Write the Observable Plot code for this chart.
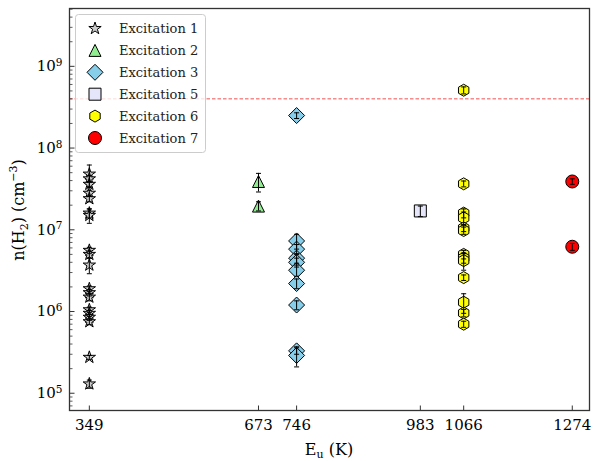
<!DOCTYPE html>
<html>
<head>
<meta charset="utf-8">
<script src="https://cdn.jsdelivr.net/npm/d3@7"></script>
<script src="https://cdn.jsdelivr.net/npm/@observablehq/plot@0.6"></script>
<style>
  body { margin: 0; background: #fff; }
  #chart svg { display: block; }
</style>
</head>
<body>
<div id="chart"></div>
<script>
// Upper-level energies (K) of the excitation groups, also used as x ticks
const energyTicks = [349, 673, 746, 983, 1066, 1274];

const seriesNames = ["Excitation 1", "Excitation 2", "Excitation 3", "Excitation 5", "Excitation 6", "Excitation 7"];
const seriesEnergy = [349, 673, 746, 983, 1066, 1274];
const seriesFill = ["#cccccc", "#90ee90", "#87ceeb", "#e6e6fa", "#ffff00", "#ff0000"];

// H2 densities (cm^-3) and their 1-sigma errors per excitation group
const exc1Density = [4.8e7, 4.2e7, 3.6e7, 2.8e7, 2.4e7, 1.6e7, 1.5e7, 5.6e6, 5.0e6, 3.7e6, 1.9e6, 1.7e6, 1.5e6, 1.05e6, 9.5e5, 8.5e5, 7.5e5, 2.75e5, 1.3e5];
const exc1Error   = [1.4e7, 4e6, 3e6, 2.5e6, 2e6, 2e6, 3e6, 5e5, 5e5, 8e5, 1.5e5, 1.5e5, 1.5e5, 8e4, 8e4, 7e4, 6e4, 1.5e4, 1.5e4];
const exc2Density = [3.9e7, 1.95e7];
const exc2Error   = [1.0e7, 2.5e6];
const exc3Density = [2.5e8, 7.3e6, 5.8e6, 4.5e6, 4.0e6, 3.2e6, 2.2e6, 1.2e6, 3.3e5, 2.9e5];
const exc3Error   = [2.0e7, 1.5e6, 8e5, 6e5, 5e5, 5e5, 3e5, 1.5e5, 3e4, 8e4];
const exc5Density = [1.7e7];
const exc5Error   = [2.5e6];
const exc6Density = [5.1e8, 3.65e7, 1.6e7, 1.4e7, 1.05e7, 9.8e6, 5.0e6, 4.5e6, 4.2e6, 2.6e6, 1.3e6, 9.6e5, 7.0e5];
const exc6Error   = [5e7, 3e6, 2e6, 2.5e6, 1e6, 1e6, 6e5, 6e5, 1e6, 2e5, 3.5e5, 1e5, 6e4];
const exc7Density = [3.9e7, 6.2e6];
const exc7Error   = [3e6, 6e5];

const densityThreshold = 4e8;
const decadeTicks = [1e5, 1e6, 1e7, 1e8, 1e9];

const densities = [exc1Density, exc2Density, exc3Density, exc5Density, exc6Density, exc7Density];
const errors = [exc1Error, exc2Error, exc3Error, exc5Error, exc6Error, exc7Error];

const rows = seriesNames.flatMap((name, i) =>
  densities[i].map((v, j) => ({series: name, energy: seriesEnergy[i], density: v, error: errors[i][j]}))
);

// Marker shapes in the style of matplotlib markers; size is pi*r^2
const radiusOf = size => Math.sqrt(size / Math.PI);
function polygon(pts) {
  return {draw(ctx, size) {
    const R = radiusOf(size);
    pts.forEach(([px, py], k) => k ? ctx.lineTo(px * R, py * R) : ctx.moveTo(px * R, py * R));
    ctx.closePath();
  }};
}
const starPts = d3.range(10).map(k => {
  const a = -Math.PI / 2 + k * Math.PI / 5, rr = k % 2 ? 0.382 : 1;
  return [rr * Math.cos(a), rr * Math.sin(a)];
});
const hexPts = d3.range(6).map(k => {
  const a = -Math.PI / 2 + k * Math.PI / 3;
  return [Math.cos(a), Math.sin(a)];
});
const symStar = polygon(starPts);
const symTriangle = polygon([[0, -1], [1, 1], [-1, 1]]);
const symDiamond = polygon([[0, -1], [1, 0], [0, 1], [-1, 0]]);
const symSquare = polygon([[-1, -1], [1, -1], [1, 1], [-1, 1]]);
const symHexagon = polygon(hexPts);
const symCircle = d3.symbolCircle;
const seriesSymbol = [symStar, symTriangle, symDiamond, symSquare, symHexagon, symCircle];
const seriesRadius = [6.5, 6, 8, 6, 6, 6.5];

// Short strokes used for error-bar caps and inward axis ticks
const capSymbol = {draw(ctx, size) { const R = radiusOf(size); ctx.moveTo(-R, 0); ctx.lineTo(R, 0); }};
const tickRight = {draw(ctx, size) { const R = radiusOf(size); ctx.moveTo(0, 0); ctx.lineTo(R, 0); }};
const tickUp = {draw(ctx, size) { const R = radiusOf(size); ctx.moveTo(0, 0); ctx.lineTo(0, -R); }};

const yDomain = [6.15e4, 5.1e9];
const minorTicks = [];
for (let e = 4; e <= 9; e++) for (let m = 2; m <= 9; m++) {
  const v = m * 10 ** e;
  if (v > yDomain[0] && v < yDomain[1]) minorTicks.push(v);
}

// "10^k" labels; the exponent is raised into a superscript after rendering
const powerLabel = d => "10^" + Math.round(Math.log10(d));

const ink = "#333";

const marks = [
  Plot.ruleY([densityThreshold], {stroke: "#ee3333", strokeOpacity: 0.85, strokeWidth: 1, strokeDasharray: "3.5,2"}),
  ...seriesNames.map((name, i) =>
    Plot.dot(rows.filter(d => d.series === name), {
      x: "energy", y: "density", symbol: seriesSymbol[i], r: seriesRadius[i],
      fill: seriesFill[i], stroke: "black", strokeWidth: 1
    })
  ),
  Plot.ruleX(rows, {x: "energy", y1: d => d.density - d.error, y2: d => d.density + d.error, stroke: "black", strokeWidth: 1}),
  Plot.dot(rows, {x: "energy", y: d => d.density + d.error, symbol: capSymbol, r: 2.5, fill: "none", stroke: "black", strokeWidth: 1}),
  Plot.dot(rows, {x: "energy", y: d => d.density - d.error, symbol: capSymbol, r: 2.5, fill: "none", stroke: "black", strokeWidth: 1}),
  Plot.dot(decadeTicks, {y: d => d, frameAnchor: "left", symbol: tickRight, r: 5, fill: "none", stroke: ink, strokeWidth: 1}),
  Plot.dot(minorTicks, {y: d => d, frameAnchor: "left", symbol: tickRight, r: 3, fill: "none", stroke: ink, strokeWidth: 0.8}),
  Plot.dot(energyTicks, {x: d => d, frameAnchor: "bottom", symbol: tickUp, r: 5, fill: "none", stroke: ink, strokeWidth: 1}),
  Plot.axisY({ticks: decadeTicks, tickSize: 0, tickPadding: 7, tickFormat: powerLabel, fontSize: 15, label: null}),
  Plot.axisX({ticks: energyTicks, tickSize: 0, tickPadding: 9, tickFormat: d => String(d), fontSize: 15, label: null}),
  Plot.frame({stroke: ink, strokeWidth: 1.3})
];

const chart = Plot.plot({
  width: 594,
  height: 461,
  marginLeft: 69,
  marginRight: 5,
  marginTop: 8,
  marginBottom: 51,
  style: {fontFamily: "'DejaVu Serif', serif", color: "black", background: "white"},
  x: {domain: [311, 1307]},
  y: {type: "log", domain: yDomain},
  marks
});

document.getElementById("chart").append(chart);

const svg = d3.select(chart);

// Raise the exponent of the y tick labels
svg.selectAll("text").each(function () {
  const t = this.textContent;
  const m = /^10\^(\d+)$/.exec(t);
  if (!m) return;
  const node = d3.select(this);
  node.text(null);
  node.append("tspan").text("10");
  node.append("tspan").attr("font-size", 10.5).attr("dy", "-0.5em").text(m[1]);
});

// Axis titles with sub/superscripts
const xTitle = svg.append("text")
  .attr("x", 329).attr("y", 455)
  .attr("text-anchor", "middle")
  .attr("font-family", "'DejaVu Serif', serif").attr("font-size", 16).attr("fill", "black");
xTitle.append("tspan").text("E");
xTitle.append("tspan").attr("font-size", 11).attr("dy", 3).text("u");
xTitle.append("tspan").attr("dy", -3).text(" (K)");

const yTitle = svg.append("text")
  .attr("transform", "translate(24,210) rotate(-90)")
  .attr("text-anchor", "middle")
  .attr("font-family", "'DejaVu Serif', serif").attr("font-size", 16).attr("fill", "black");
yTitle.append("tspan").text("n(H");
yTitle.append("tspan").attr("font-size", 11).attr("dy", 4).text("2");
yTitle.append("tspan").attr("dy", -4).text(") (cm");
yTitle.append("tspan").attr("font-size", 11).attr("dy", -7).text("−3");
yTitle.append("tspan").attr("dy", 7).text(")");

// Legend
const legend = svg.append("g");
legend.append("rect")
  .attr("x", 75.5).attr("y", 14.5).attr("width", 130).attr("height", 138).attr("rx", 3)
  .attr("fill", "white").attr("fill-opacity", 0.8).attr("stroke", "#cccccc");
seriesNames.forEach((name, i) => {
  const cy = 28.5 + i * 21.9;
  legend.append("path")
    .attr("transform", `translate(95,${cy})`)
    .attr("d", d3.symbol(seriesSymbol[i], Math.PI * seriesRadius[i] ** 2)())
    .attr("fill", seriesFill[i]).attr("stroke", "black").attr("stroke-width", 1);
  legend.append("text")
    .attr("x", 119).attr("y", cy).attr("dy", "0.35em")
    .attr("text-anchor", "start")
    .attr("font-family", "'DejaVu Serif', serif").attr("font-size", 13).attr("fill", "#222")
    .text(name);
});
</script>
</body>
</html>
